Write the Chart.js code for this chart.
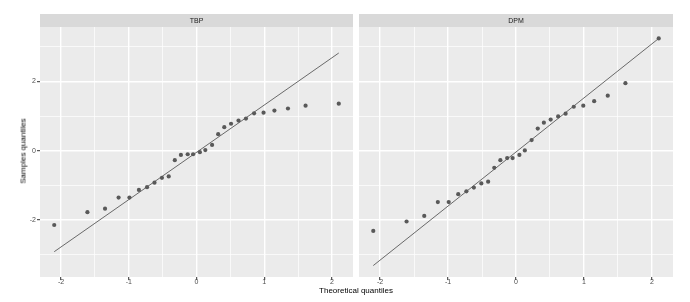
<!DOCTYPE html>
<html lang="en">
<head>
    <meta charset="UTF-8">
    <title>QQ plot TBP / DPM</title>
    <style>
        body {
            margin: 0;
            background: #ffffff;
            font-family: "Liberation Sans", Arial, sans-serif;
        }
        #wrap {
            position: relative;
            width: 690px;
            height: 302px;
        }
        canvas {
            position: absolute;
        }
        .axis-title {
            position: absolute;
            font-size: 8px;
            color: #000000;
            white-space: nowrap;
        }
    </style>
    <script src="https://cdn.jsdelivr.net/npm/chart.js"></script>
</head>
<body>
<div id="wrap">
    <canvas id="leftChart" width="357" height="280" style="left:0px;top:14px;"></canvas>
    <canvas id="rightChart" width="335" height="280" style="left:355px;top:14px;"></canvas>
    <div class="axis-title" id="xTitle" style="left:356px;top:286px;transform:translateX(-50%);">Theoretical quantiles</div>
    <div class="axis-title" id="yTitle" style="left:23px;top:151px;transform:translate(-50%,-50%) rotate(-90deg);">Samples quantiles</div>
</div>

<script>
    // dados
    var panelNames = ['TBP', 'DPM'];
    var theoretical = [-2.10, -1.61, -1.35, -1.15, -0.99, -0.85, -0.73, -0.62, -0.51, -0.41,
        -0.32, -0.23, -0.13, -0.05, 0.05, 0.13, 0.23, 0.32, 0.41, 0.51,
        0.62, 0.73, 0.85, 0.99, 1.15, 1.35, 1.61, 2.10];
    var tbpSample = [-2.14, -1.77, -1.67, -1.35, -1.35, -1.13, -1.05, -0.92, -0.78, -0.74,
        -0.27, -0.12, -0.10, -0.10, -0.04, 0.02, 0.17, 0.48, 0.68, 0.78,
        0.87, 0.93, 1.08, 1.10, 1.16, 1.22, 1.30, 1.36];
    var dpmSample = [-2.31, -2.04, -1.88, -1.48, -1.48, -1.25, -1.17, -1.06, -0.94, -0.89,
        -0.49, -0.27, -0.21, -0.21, -0.12, 0.01, 0.31, 0.64, 0.81, 0.90,
        0.99, 1.07, 1.27, 1.30, 1.43, 1.59, 1.95, 3.24];
    var lineX = [-2.10, 2.10];
    var tbpLine = [-2.91, 2.82];
    var dpmLine = [-3.31, 3.24];

    var xMajor = [-2, -1, 0, 1, 2];
    var xMinor = [-1.5, -0.5, 0.5, 1.5];
    var yMajor = [-2, 0, 2];
    var yMinor = [-3, -1, 1, 3];

    var xRange = [-2.31, 2.31];
    var yRange = [-3.64, 3.57];

    function toPoints(xs, ys) {
        return xs.map(function (x, i) { return { x: x, y: ys[i] }; });
    }

    function isMajor(list, v) {
        return list.some(function (m) { return Math.abs(m - v) < 1e-9; });
    }

    // fundo do painel + faixa com o nome
    var panelPlugin = {
        id: 'panel',
        beforeDraw: function (chart, args, opts) {
            var ctx = chart.ctx;
            var a = chart.chartArea;
            ctx.save();
            ctx.fillStyle = '#EBEBEB';
            ctx.fillRect(a.left, a.top, a.right - a.left, a.bottom - a.top);
            ctx.fillStyle = '#D9D9D9';
            ctx.fillRect(a.left, a.top - 13, a.right - a.left, 13);
            ctx.fillStyle = '#1A1A1A';
            ctx.font = '7px "Liberation Sans", Arial, sans-serif';
            ctx.textAlign = 'center';
            ctx.textBaseline = 'middle';
            ctx.fillText(opts.text, (a.left + a.right) / 2, a.top - 6);
            ctx.restore();
        }
    };

    function makeChart(id, name, sample, line, showY, pad) {
        var ctx = document.getElementById(id).getContext('2d');
        return new Chart(ctx, {
            type: 'scatter',
            data: {
                datasets: [{
                    data: toPoints(theoretical, sample),
                    backgroundColor: '#595959',
                    borderWidth: 0,
                    pointRadius: 2.1
                }, {
                    type: 'line',
                    data: toPoints(lineX, line),
                    borderColor: '#5a5a5a',
                    borderWidth: 0.9,
                    pointRadius: 0,
                    fill: false
                }]
            },
            options: {
                responsive: false,
                animation: false,
                devicePixelRatio: 1,
                layout: { padding: pad },
                plugins: {
                    legend: { display: false },
                    tooltip: { enabled: false },
                    panel: { text: name }
                },
                scales: {
                    x: {
                        type: 'linear',
                        min: xRange[0],
                        max: xRange[1],
                        border: { display: false },
                        afterBuildTicks: function (scale) {
                            scale.ticks = xMajor.concat(xMinor).sort(function (a, b) { return a - b; })
                                .map(function (v) { return { value: v }; });
                        },
                        afterFit: function (scale) { scale.height = 17; },
                        grid: {
                            color: '#FFFFFF',
                            lineWidth: function (c) { return isMajor(xMajor, c.tick.value) ? 1.4 : 0.7; },
                            tickColor: function (c) { return isMajor(xMajor, c.tick.value) ? '#333333' : 'rgba(0,0,0,0)'; },
                            tickWidth: 1,
                            tickLength: 3
                        },
                        ticks: {
                            autoSkip: false,
                            maxRotation: 0,
                            padding: -2,
                            color: '#4D4D4D',
                            font: { size: 7, family: '"Liberation Sans", Arial, sans-serif' },
                            callback: function (v) { return isMajor(xMajor, v) ? String(v) : ''; }
                        }
                    },
                    y: {
                        type: 'linear',
                        display: showY ? true : 'auto',
                        min: yRange[0],
                        max: yRange[1],
                        border: { display: false },
                        afterBuildTicks: function (scale) {
                            scale.ticks = yMajor.concat(yMinor).sort(function (a, b) { return a - b; })
                                .map(function (v) { return { value: v }; });
                        },
                        afterFit: function (scale) { scale.width = showY ? 40 : 0; },
                        grid: {
                            color: '#FFFFFF',
                            lineWidth: function (c) { return isMajor(yMajor, c.tick.value) ? 1.4 : 0.7; },
                            tickColor: function (c) { return (showY && isMajor(yMajor, c.tick.value)) ? '#333333' : 'rgba(0,0,0,0)'; },
                            tickWidth: 1,
                            tickLength: 3,
                            drawTicks: showY
                        },
                        ticks: {
                            autoSkip: false,
                            padding: 1,
                            color: '#4D4D4D',
                            display: showY,
                            font: { size: 7, family: '"Liberation Sans", Arial, sans-serif' },
                            callback: function (v) { return isMajor(yMajor, v) ? String(v) : ''; }
                        }
                    }
                }
            },
            plugins: [panelPlugin]
        });
    }

    makeChart('leftChart', panelNames[0], tbpSample, tbpLine, true, { top: 13, right: 2, left: 0, bottom: 0 });
    makeChart('rightChart', panelNames[1], dpmSample, dpmLine, false, { top: 13, right: 17, left: 3, bottom: 0 });
</script>
</body>
</html>
